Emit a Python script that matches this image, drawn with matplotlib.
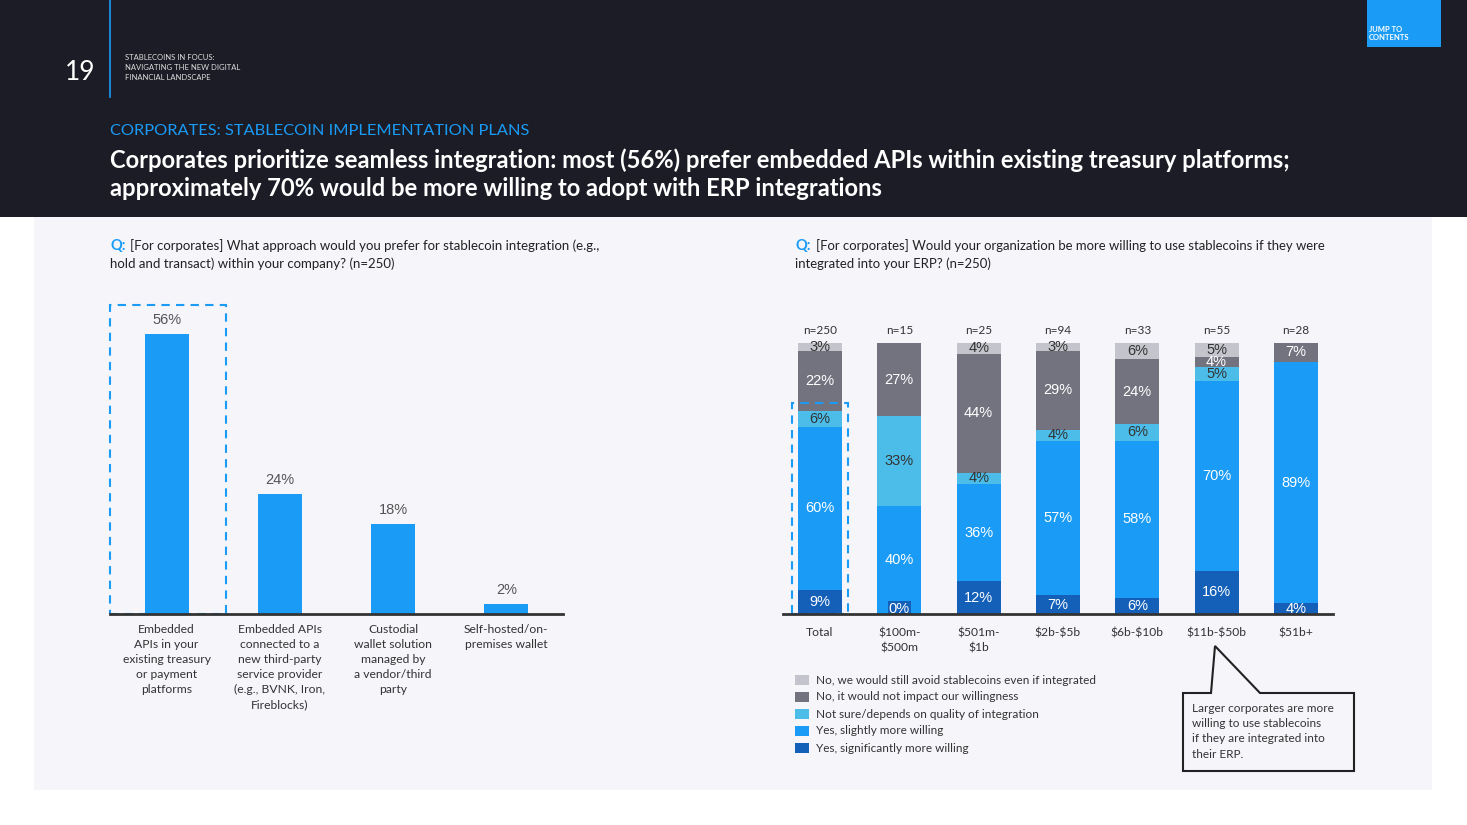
import matplotlib
matplotlib.use('Agg')
import matplotlib.pyplot as plt
from matplotlib.patches import Rectangle, Polygon
from matplotlib.lines import Line2D

plt.rcParams['text.parse_math'] = False

# ---------------- data ----------------
left_categories = [
    "Embedded\nAPIs in your\nexisting treasury\nor payment\nplatforms",
    "Embedded APIs\nconnected to a\nnew third-party\nservice provider\n(e.g., BVNK, Iron,\nFireblocks)",
    "Custodial\nwallet solution\nmanaged by\na vendor/third\nparty",
    "Self-hosted/on-\npremises wallet",
]
left_values = [56, 24, 18, 2]

right_categories = ["Total", "$100m-\n$500m", "$501m-\n$1b", "$2b-$5b", "$6b-$10b", "$11b-$50b", "$51b+"]
right_n = [250, 15, 25, 94, 33, 55, 28]
series_names = [
    "Yes, significantly more willing",
    "Yes, slightly more willing",
    "Not sure/depends on quality of integration",
    "No, it would not impact our willingness",
    "No, we would still avoid stablecoins even if integrated",
]
significantly = [9, 0, 12, 7, 6, 16, 4]
slightly = [60, 40, 36, 57, 58, 70, 89]
not_sure = [6, 33, 4, 4, 6, 5, 0]
no_impact = [22, 27, 44, 29, 24, 4, 7]
avoid = [3, 0, 4, 3, 6, 5, 0]
series_values = [significantly, slightly, not_sure, no_impact, avoid]
series_colors = ['#1460b8', '#1a9bf5', '#4bbde8', '#73737f', '#c4c4cc']
series_text = ['white', 'white', '#333333', 'white', '#333333']

# ---------------- figure ----------------
W, H = 1467, 825
fig = plt.figure(figsize=(W / 100, H / 100), dpi=100)
fig.patch.set_facecolor('white')
BODY = ['Lato', 'DejaVu Sans']
NUM = ['Liberation Sans', 'DejaVu Sans']


def fx(x):
    return x / W


def fy(y):
    return 1 - y / H


PANEL = '#f5f5fa'
BLUE = '#1a9bf5'
fig.add_artist(Rectangle((0, fy(217)), 1, 217 / H, transform=fig.transFigure,
                         facecolor='#1c1c26', edgecolor='none', zorder=0))
fig.add_artist(Rectangle((fx(34), fy(790)), (1432 - 34) / W, (790 - 217) / H,
                         transform=fig.transFigure, facecolor=PANEL, edgecolor='none', zorder=0))

# header
fig.text(fx(65), fy(72), "19", color='white', fontsize=19, family=BODY,
         va='center', ha='left')
fig.add_artist(Line2D([fx(110), fx(110)], [fy(0), fy(97)], transform=fig.transFigure,
                      color=BLUE, lw=1.2))
for i, s in enumerate(["STABLECOINS IN FOCUS:", "NAVIGATING THE NEW DIGITAL", "FINANCIAL LANDSCAPE"]):
    fig.text(fx(125), fy(58 + 10 * i), s, color='#dddddd', fontsize=5.5, family=BODY, va='center')
fig.add_artist(Rectangle((fx(1367), fy(47)), 74 / W, 47 / H, transform=fig.transFigure,
                         facecolor=BLUE, edgecolor='none'))
fig.text(fx(1369), fy(30), "JUMP TO", color='white', fontsize=5.5, weight='bold', family=BODY, va='center')
fig.text(fx(1369), fy(38), "CONTENTS", color='white', fontsize=5.5, weight='bold', family=BODY, va='center')

fig.text(fx(110), fy(131), "CORPORATES: STABLECOIN IMPLEMENTATION PLANS", color=BLUE,
         fontsize=11.8, family=BODY, va='center')
fig.text(fx(110), fy(160), "Corporates prioritize seamless integration: most (56%) prefer embedded APIs within existing treasury platforms;",
         color='white', fontsize=17.1, weight='bold', family=BODY, va='center')
fig.text(fx(110), fy(188), "approximately 70% would be more willing to adopt with ERP integrations",
         color='white', fontsize=17.1, weight='bold', family=BODY, va='center')

# questions
fig.text(fx(110), fy(246), "Q:", color=BLUE, fontsize=10.5, weight='bold', family=BODY, va='center')
fig.text(fx(130), fy(246), "[For corporates] What approach would you prefer for stablecoin integration (e.g.,",
         color='#222222', fontsize=9.55, family=BODY, va='center')
fig.text(fx(110), fy(264), "hold and transact) within your company? (n=250)",
         color='#222222', fontsize=9.55, family=BODY, va='center')
fig.text(fx(795), fy(246), "Q:", color=BLUE, fontsize=10.5, weight='bold', family=BODY, va='center')
fig.text(fx(816), fy(246), "[For corporates] Would your organization be more willing to use stablecoins if they were",
         color='#222222', fontsize=9.45, family=BODY, va='center')
fig.text(fx(795), fy(264), "integrated into your ERP? (n=250)",
         color='#222222', fontsize=9.45, family=BODY, va='center')

# ---------------- left chart ----------------
axL = fig.add_axes([fx(110), fy(614), 453 / W, (614 - 294) / H])
axL.set_facecolor('none')
xl = list(range(len(left_values)))
axL.bar(xl, left_values, width=0.39, color=BLUE, zorder=2)
axL.set_xlim(-0.5, 3.5)
axL.set_ylim(0, 64)
for s in ['top', 'right', 'left']:
    axL.spines[s].set_visible(False)
axL.spines['bottom'].set_color('#333333')
axL.spines['bottom'].set_linewidth(2)
axL.spines['bottom'].set_zorder(5)
axL.set_xticks([])
axL.set_yticks([])
for i, v in enumerate(left_values):
    axL.text(i, v + 2.8, f"{v}%", ha='center', va='center', fontsize=10.5, color='#555555', family=NUM)
axL.add_patch(Rectangle((-0.5, 0), 1.024, 61.8, fill=False, edgecolor=BLUE, lw=1.5,
                        linestyle=(0, (4, 3)), clip_on=False, zorder=4))
for i, lab in enumerate(left_categories):
    fig.text(fx(110 + (i + 0.5) * 113.25), fy(624), lab, ha='center', va='top', fontsize=8.7,
             color='#333333', family=BODY, linespacing=1.45)

# ---------------- right chart ----------------
axR = fig.add_axes([fx(783), fy(614), 550 / W, 271 / H])
axR.set_facecolor('none')
xr = list(range(len(right_categories)))
bottoms = [0] * len(xr)
for k, (vals, col, tcol) in enumerate(zip(series_values, series_colors, series_text)):
    axR.bar(xr, vals, bottom=bottoms, width=0.555, color=col, zorder=1)
    for i, v in enumerate(vals):
        show = v > 0 or k == 0
        if show:
            if k == 0:
                yc = max(v, 4) / 2
                bb = dict(facecolor=col, edgecolor='none', pad=0.6) if v == 0 else None
                axR.text(i, yc, f"{v}%", ha='center', va='center', fontsize=10.5, color=tcol,
                         family=NUM, zorder=2, clip_on=True, bbox=bb)
            else:
                axR.text(i, bottoms[i] + v / 2, f"{v}%", ha='center', va='center', fontsize=10.5,
                         color=tcol, family=NUM, zorder=2)
    bottoms = [b + v for b, v in zip(bottoms, vals)]
axR.set_xlim(-0.466, 6.467)
axR.set_ylim(0, 100)
for s in ['top', 'right', 'left']:
    axR.spines[s].set_visible(False)
axR.spines['bottom'].set_color('#333333')
axR.spines['bottom'].set_linewidth(2)
axR.spines['bottom'].set_zorder(5)
axR.set_xticks([])
axR.set_yticks([])
for i, n in enumerate(right_n):
    axR.text(i, 104.5, f"n={n}", ha='center', va='center', fontsize=8.5, color='#333333',
             family=BODY, clip_on=False)
axR.add_patch(Rectangle((-0.353, 0), 0.706, 77.9, fill=False, edgecolor=BLUE, lw=1.5,
                        linestyle=(0, (4, 3)), clip_on=False, zorder=4))
for i, lab in enumerate(right_categories):
    fig.text(fx(783 + (i + 0.466) * 79.33), fy(627.5), lab, ha='center', va='top', fontsize=8.7,
             color='#333333', family=BODY, linespacing=1.45)

# legend (top to bottom: avoid ... significantly)
for j, k in enumerate(range(len(series_names) - 1, -1, -1)):
    yc = 680 + 17 * j
    fig.add_artist(Rectangle((fx(795), fy(yc + 5)), 14 / W, 10 / H, transform=fig.transFigure,
                             facecolor=series_colors[k], edgecolor='none'))
    fig.text(fx(816), fy(yc), series_names[k], fontsize=8.5, color='#333333', family=BODY, va='center')

# callout
pts = [(1211, 693), (1183, 693), (1183, 771), (1354, 771), (1354, 693), (1260, 693), (1215, 646)]
fig.add_artist(Polygon([(fx(x), fy(y)) for x, y in pts], closed=True, transform=fig.transFigure,
                       facecolor=PANEL, edgecolor='#222222', lw=1.5))
for i, s in enumerate(["Larger corporates are more", "willing to use stablecoins",
                       "if they are integrated into", "their ERP."]):
    fig.text(fx(1192), fy(708 + 15.4 * i), s, fontsize=8.5, color='#333333', family=BODY, va='center')

fig.savefig('out.png', dpi=100, facecolor=fig.get_facecolor())
